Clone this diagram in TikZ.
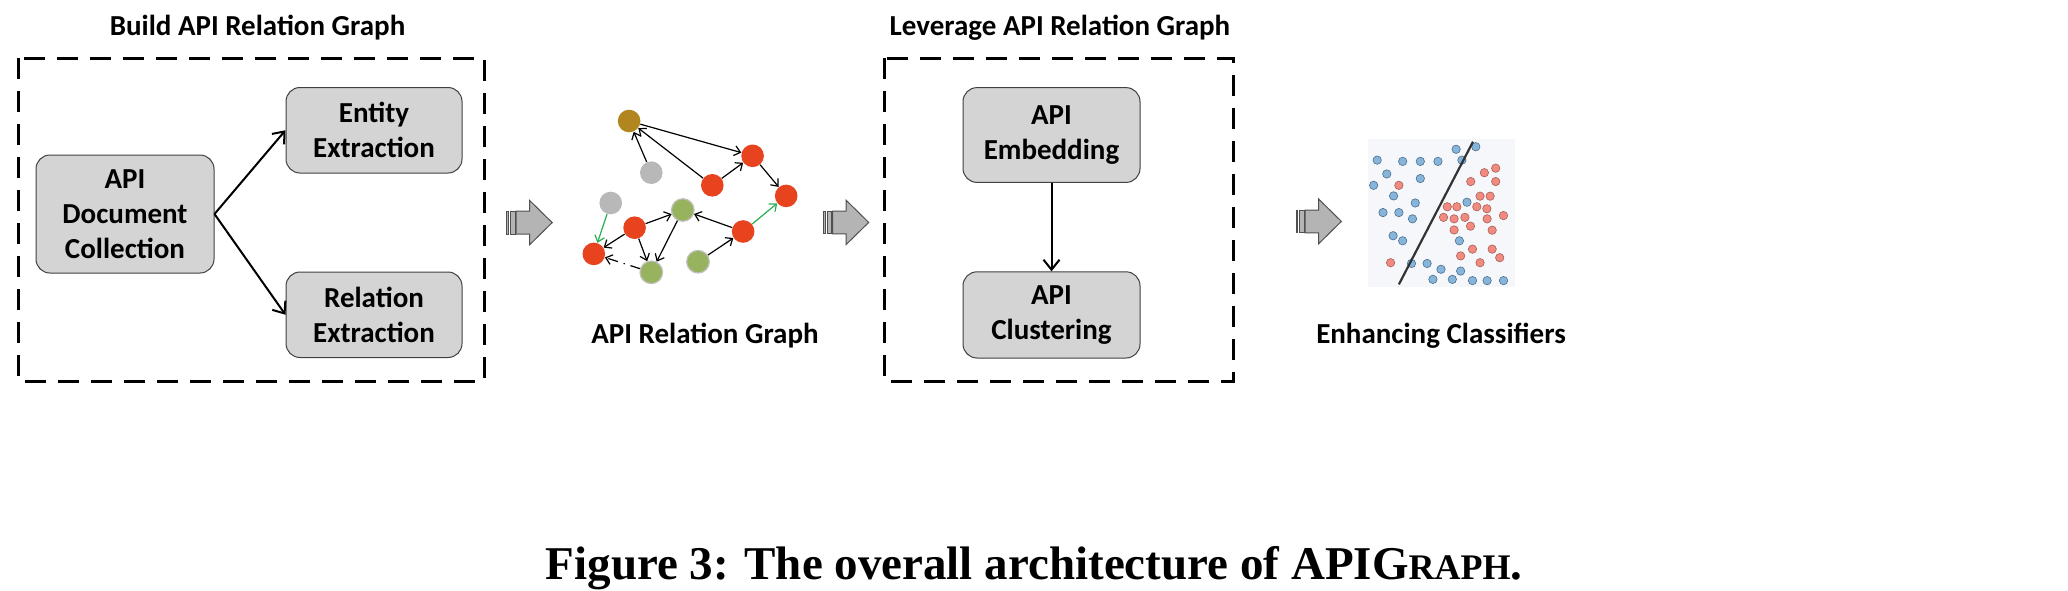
\documentclass[tikz,border=0pt]{standalone}
\usepackage{fontspec}
\setmainfont{Carlito}
\newfontfamily\capfont{Liberation Serif}
\usetikzlibrary{arrows.meta}
\definecolor{boxfill}{HTML}{D4D4D4}
\definecolor{boxdraw}{HTML}{404040}
\definecolor{nred}{HTML}{E8431F}
\definecolor{nbrown}{HTML}{B2861F}
\definecolor{ngrey}{HTML}{B8B8B8}
\definecolor{ngreen}{HTML}{97B35D}
\definecolor{ngreenb}{HTML}{C0C0C0}
\definecolor{egreen}{HTML}{27AE55}
\definecolor{barrfill}{HTML}{B4B4B4}
\definecolor{barrdraw}{HTML}{505050}
\definecolor{sbg}{HTML}{F5F7FA}
\definecolor{sblue}{HTML}{86B5DB}
\definecolor{sblued}{HTML}{4D6F8C}
\definecolor{sred}{HTML}{F28A80}
\definecolor{sredd}{HTML}{A86058}
\definecolor{sline}{HTML}{333333}
\newcommand\BlkArrow[2]{%
  \begin{scope}[shift={(#1,#2)}]
    \draw[barrdraw, fill=barrfill, line width=0.5pt] (0,-11.4) rectangle (1.7,11.4);
    \draw[barrdraw, fill=barrfill, line width=0.5pt] (3.8,-11.4) rectangle (8.2,11.4);
    \draw[barrdraw, fill=barrfill, line width=0.5pt] (9.2,-11.4) -- (22.7,-11.4) -- (22.7,-22.3) -- (45.4,0) -- (22.7,22.3) -- (22.7,11.4) -- (9.2,11.4) -- cycle;
  \end{scope}}
\begin{document}
\begin{tikzpicture}[x=0.5pt,y=-0.5pt,
  titletext/.style={font=\bfseries\fontsize{14.5}{17.5}\selectfont, anchor=base, inner sep=0pt},
  procbox/.style={draw=boxdraw, fill=boxfill, line width=0.5pt, rounded corners=7pt, align=center,
    font=\bfseries\fontsize{14.5}{17.5}\selectfont, inner sep=0pt},
  dashbox/.style={draw, line width=1.5pt, dash pattern=on 10.5pt off 6pt},
  bigarrow/.style={-{Straight Barb[length=5pt,width=8pt]}, line width=1pt},
  gnode/.style={circle, inner sep=0pt, minimum size=11.3pt},
  rednode/.style={gnode, fill=nred},
  greynode/.style={gnode, fill=ngrey},
  brownnode/.style={gnode, fill=nbrown},
  greennode/.style={gnode, fill=ngreen, draw=ngreenb, line width=0.6pt},
  gedge/.style={-{Straight Barb[length=3pt,width=5pt]}, line width=0.6pt},
  gedgegreen/.style={gedge, egreen},
  bdot/.style={circle, inner sep=0pt, minimum size=4.2pt, fill=sblue, draw=sblued, line width=0.3pt},
  rdot/.style={circle, inner sep=0pt, minimum size=4.2pt, fill=sred, draw=sredd, line width=0.3pt}
]
\path[use as bounding box, fill=white] (0,0) rectangle (2068,590);

% titles
\node[titletext] (t1) at (257.5,35.3) {Build API Relation Graph};
\node[titletext] (t2) at (1060,35.3) {Leverage API Relation Graph};
\node[titletext] (t3) at (705,343) {API Relation Graph};
\node[titletext] (t4) at (1441,343) {Enhancing Classifiers};

% dashed frames
\draw[dashbox] (18,58) rectangle (484,381);
\draw[dashbox] (884,58) rectangle (1233,381);

% process boxes
\node[procbox, minimum width=89pt, minimum height=59pt] (doc) at (125,214) {API\\Document\\Collection};
\node[procbox, minimum width=88pt, minimum height=42.75pt] (ent) at (374,130.25) {Entity\\Extraction};
\node[procbox, minimum width=88pt, minimum height=42.75pt] (rel) at (374,314.75) {Relation\\Extraction};
\node[procbox, minimum width=88.5pt, minimum height=47.4pt] (emb) at (1051.5,135) {API\\Embedding};
\node[procbox, minimum width=88.5pt, minimum height=43.1pt] (clu) at (1051.5,314.9) {API\\Clustering};

\draw[bigarrow] (doc.east) -- (ent.west);
\draw[bigarrow] (doc.east) -- (rel.west);
\draw[bigarrow] (emb.south) -- (clu.north);

% block arrows
\BlkArrow{506.8}{222.6}
\BlkArrow{823.3}{222.4}
\BlkArrow{1296}{221.4}

% relation graph
\node[brownnode] (b1) at (629.1,121.0) {};
\node[greynode]  (g1) at (651.3,172.7) {};
\node[rednode]   (r1) at (752.6,155.8) {};
\node[rednode]   (r2) at (712.3,185.3) {};
\node[rednode]   (r3) at (786.2,195.9) {};
\node[greynode]  (g2) at (610.7,203.0) {};
\node[greennode] (n1) at (682.8,210.0) {};
\node[rednode]   (r4) at (634.6,227.7) {};
\node[rednode]   (r5) at (743.1,231.5) {};
\node[rednode]   (r6) at (593.8,253.9) {};
\node[greennode] (n2) at (698.0,261.7) {};
\node[greennode] (n3) at (651.3,272.3) {};

\draw[gedge] (r2) -- (b1);
\draw[gedge] (g1) -- (b1);
\draw[gedge] (b1) -- (r1);
\draw[gedge] (r2) -- (r1);
\draw[gedge] (r1) -- (r3);
\draw[gedgegreen] (r5) -- (r3);
\draw[gedge] (r5) -- (n1);
\draw[gedge] (n2) -- (r5);
\draw[gedge] (r4) -- (n1);
\draw[gedge] (r4) -- (r6);
\draw[gedge] (r4) -- (n3);
\draw[gedge] (n1) -- (n3);
\draw[gedgegreen] (g2) -- (r6);
\draw[gedge, dash pattern=on 5pt off 3pt on 0.6pt off 3pt] (n3) -- (r6);

% classifier scatter
\begin{scope}[shift={(1354.0,128.6)}, x=0.12605pt, y=-0.12605pt]
  \fill[sbg] (55,42) rectangle (638,627);
  \foreach \p in {(405,82),(483,72),(92,125),(193,130),(263,130),(333,130),(428,125),(130,180),(263,198),(78,225),(157,267),(243,295),(448,292),(115,333),(178,333),(232,358),(155,425),(193,445),(418,445),(228,535),(290,535),(345,558),(423,565),(313,598),(390,598),(470,603),(528,603),(593,603)}
    \node[bdot] at \p {};
  \foreach \p in {(562,157),(517,175),(463,210),(562,210),(178,225),(500,268),(540,268),(370,310),(408,310),(487,310),(527,318),(355,352),(397,358),(440,352),(528,358),(593,345),(462,387),(397,402),(548,403),(470,478),(548,478),(578,512),(423,505),(500,532),(145,532)}
    \node[rdot] at \p {};
  \draw[sline, line width=1.1pt] (472,52) -- (178,618);
\end{scope}

% caption
\node[anchor=base, inner sep=0pt, font=\capfont\bfseries\fontsize{23.5}{28}\selectfont] (cap) at (1034,579)
  {Figure 3: The overall architecture of APIG{\fontsize{18}{21}\selectfont RAPH}.};
\end{tikzpicture}
\end{document}
